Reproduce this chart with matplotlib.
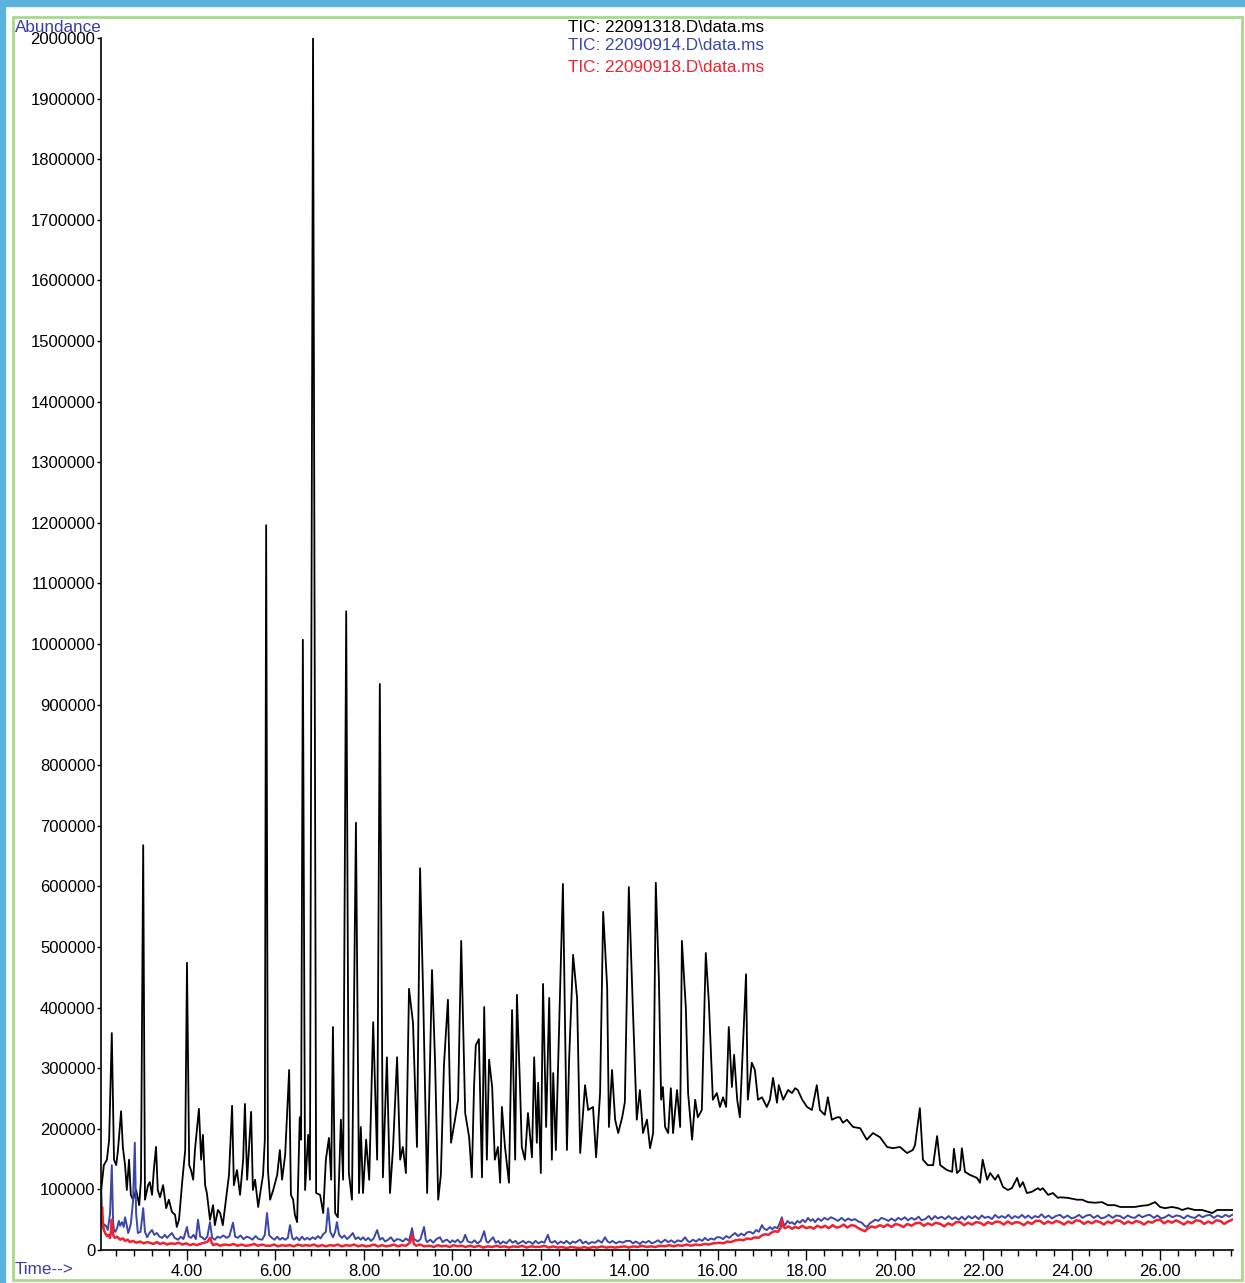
import numpy as np
from matplotlib import pyplot as plt
from matplotlib.patches import Rectangle
from matplotlib.ticker import MultipleLocator, FixedLocator

# retention time (min) and abundance (thousands)
black_t = [2.06, 2.12, 2.19, 2.24, 2.30, 2.35, 2.40, 2.44, 2.51, 2.55, 2.60, 2.64, 2.69, 2.73, 2.78, 2.85,
           2.92, 2.96, 3.01, 3.05, 3.12, 3.16, 3.21, 3.25, 3.30, 3.34, 3.39, 3.46, 3.53, 3.59, 3.66, 3.73,
           3.77, 3.82, 3.89, 3.96, 4.00, 4.05, 4.09, 4.14, 4.18, 4.27, 4.32, 4.36, 4.41, 4.45, 4.52, 4.59,
           4.63, 4.70, 4.75, 4.81, 4.88, 4.95, 5.02, 5.06, 5.13, 5.20, 5.27, 5.31, 5.36, 5.45, 5.49, 5.54,
           5.61, 5.65, 5.72, 5.76, 5.79, 5.83, 5.88, 5.95, 6.04, 6.10, 6.15, 6.22, 6.31, 6.35, 6.40, 6.44,
           6.49, 6.55, 6.58, 6.62, 6.67, 6.74, 6.78, 6.85, 6.92, 7.01, 7.08, 7.14, 7.21, 7.26, 7.30, 7.35,
           7.41, 7.48, 7.53, 7.60, 7.66, 7.73, 7.82, 7.89, 7.93, 7.98, 8.05, 8.12, 8.21, 8.30, 8.36, 8.43,
           8.52, 8.59, 8.66, 8.75, 8.82, 8.88, 8.95, 9.02, 9.11, 9.20, 9.27, 9.34, 9.43, 9.54, 9.61, 9.68,
           9.74, 9.81, 9.90, 9.97, 10.06, 10.13, 10.20, 10.29, 10.38, 10.44, 10.49, 10.53, 10.60, 10.67,
           10.72, 10.78, 10.83, 10.90, 10.96, 11.03, 11.08, 11.12, 11.19, 11.28, 11.35, 11.42, 11.46,
           11.53, 11.57, 11.64, 11.71, 11.80, 11.85, 11.91, 11.94, 12.00, 12.05, 12.12, 12.19, 12.25,
           12.28, 12.34, 12.41, 12.50, 12.59, 12.64, 12.73, 12.82, 12.89, 13.00, 13.07, 13.18, 13.25,
           13.34, 13.41, 13.50, 13.54, 13.61, 13.68, 13.75, 13.84, 13.90, 13.99, 14.08, 14.17, 14.24,
           14.31, 14.40, 14.47, 14.54, 14.60, 14.67, 14.72, 14.76, 14.81, 14.88, 14.94, 14.99, 15.08,
           15.15, 15.19, 15.28, 15.33, 15.42, 15.49, 15.55, 15.64, 15.73, 15.80, 15.89, 15.98, 16.05,
           16.12, 16.19, 16.25, 16.32, 16.37, 16.44, 16.50, 16.64, 16.68, 16.77, 16.84, 16.91, 17.00,
           17.11, 17.18, 17.25, 17.34, 17.38, 17.48, 17.59, 17.68, 17.75, 17.81, 17.91, 18.02, 18.13,
           18.24, 18.31, 18.42, 18.49, 18.58, 18.70, 18.76, 18.83, 18.92, 19.06, 19.22, 19.37, 19.51,
           19.67, 19.83, 19.96, 20.12, 20.28, 20.41, 20.46, 20.57, 20.64, 20.75, 20.87, 20.96, 21.03,
           21.18, 21.30, 21.34, 21.41, 21.48, 21.52, 21.59, 21.70, 21.86, 21.93, 21.99, 22.09, 22.16,
           22.27, 22.34, 22.45, 22.56, 22.65, 22.77, 22.83, 22.90, 22.99, 23.10, 23.24, 23.29, 23.35,
           23.47, 23.58, 23.69, 23.74, 23.92, 24.12, 24.24, 24.37, 24.53, 24.69, 24.82, 24.98, 25.10,
           25.25, 25.43, 25.59, 25.73, 25.89, 26.00, 26.11, 26.27, 26.41, 26.50, 26.63, 26.79, 26.95,
           27.09, 27.18, 27.29, 27.40, 27.63]
black_k = [99, 140, 149, 182, 358, 149, 140, 165, 229, 170, 140, 99, 149, 91, 83, 99,
           74, 116, 668, 83, 107, 112, 91, 132, 170, 99, 87, 107, 69, 83, 63, 58,
           38, 50, 111, 165, 474, 140, 132, 116, 165, 233, 149, 190, 107, 94, 50, 74,
           41, 66, 61, 41, 83, 124, 238, 107, 132, 91, 149, 241, 116, 228, 99, 116,
           71, 91, 124, 182, 1196, 132, 83, 99, 124, 165, 116, 157, 297, 91, 83, 58,
           46, 219, 182, 1007, 99, 190, 116, 2000, 94, 91, 61, 149, 185, 116, 368, 61,
           54, 215, 116, 1054, 127, 83, 705, 94, 203, 94, 182, 116, 376, 149, 934, 120,
           318, 94, 170, 318, 149, 170, 127, 431, 375, 170, 630, 421, 94, 462, 309, 83,
           124, 305, 413, 177, 215, 248, 510, 226, 186, 120, 269, 338, 348, 120,
           401, 149, 314, 269, 149, 170, 111, 236, 170, 111, 396, 149, 421,
           269, 170, 149, 226, 153, 318, 177, 276, 127, 439, 203, 416, 149,
           292, 165, 355, 604, 165, 314, 487, 416, 160, 272, 231, 236, 153,
           259, 558, 434, 203, 297, 215, 193, 219, 244, 599, 401, 215, 264,
           193, 215, 168, 193, 606, 446, 248, 269, 203, 193, 267, 193, 264,
           203, 510, 398, 259, 182, 248, 219, 231, 490, 408, 248, 259, 236,
           252, 236, 368, 269, 322, 248, 219, 455, 248, 309, 297, 248, 252,
           236, 248, 284, 243, 272, 248, 264, 259, 267, 264, 248, 236, 231,
           272, 231, 223, 252, 215, 219, 219, 210, 215, 203, 201, 182, 193,
           186, 170, 168, 170, 160, 165, 173, 234, 149, 140, 140, 188, 140,
           132, 129, 167, 127, 132, 168, 129, 124, 119, 111, 149, 116, 127,
           116, 124, 104, 99, 102, 119, 104, 112, 94, 96, 102, 99, 102,
           91, 94, 86, 87, 86, 83, 83, 79, 78, 79, 74, 74, 71,
           71, 71, 73, 74, 79, 71, 69, 71, 69, 66, 69, 66, 66,
           63, 61, 66, 66, 66]

blue_t = [2.06, 2.08, 2.10, 2.13, 2.17, 2.21, 2.26, 2.30, 2.33, 2.35, 2.38, 2.42, 2.46, 2.49, 2.53, 2.57,
          2.60, 2.64, 2.67, 2.70, 2.73, 2.78, 2.82, 2.85, 2.89, 2.95, 3.01, 3.05, 3.10, 3.15, 3.21, 3.26,
          3.32, 3.38, 3.44, 3.50, 3.55, 3.60, 3.66, 3.72, 3.80, 3.86, 3.92, 4.00, 4.04, 4.09, 4.15, 4.20,
          4.25, 4.30, 4.34, 4.40, 4.46, 4.52, 4.57, 4.63, 4.69, 4.75, 4.82, 4.90, 4.96, 5.04, 5.09, 5.15,
          5.21, 5.28, 5.35, 5.42, 5.48, 5.55, 5.62, 5.70, 5.76, 5.81, 5.86, 5.92, 5.98, 6.04, 6.10, 6.16,
          6.22, 6.28, 6.33, 6.38, 6.42, 6.48, 6.54, 6.60, 6.66, 6.72, 6.78, 6.84, 6.90, 6.96, 7.02, 7.08,
          7.14, 7.19, 7.24, 7.30, 7.35, 7.39, 7.44, 7.50, 7.56, 7.62, 7.68, 7.75, 7.81, 7.87, 7.93, 7.98,
          8.04, 8.10, 8.16, 8.22, 8.30, 8.36, 8.42, 8.48, 8.55, 8.61, 8.68, 8.75, 8.82, 8.88, 8.95, 9.02,
          9.09, 9.13, 9.16, 9.22, 9.28, 9.36, 9.40, 9.43, 9.50, 9.57, 9.64, 9.72, 9.78, 9.84, 9.88, 9.95,
          10.00, 10.06, 10.12, 10.18, 10.24, 10.29, 10.35, 10.44, 10.50, 10.57, 10.64, 10.72, 10.77, 10.81,
          10.86, 10.92, 10.98, 11.04, 11.08, 11.15, 11.22, 11.30, 11.36, 11.43, 11.48, 11.53, 11.60, 11.66,
          11.72, 11.76, 11.82, 11.88, 11.95, 12.02, 12.08, 12.16, 12.21, 12.25, 12.32, 12.38, 12.45, 12.52,
          12.58, 12.66, 12.72, 12.78, 12.84, 12.89, 12.95, 13.02, 13.08, 13.15, 13.23, 13.30, 13.38, 13.45,
          13.51, 13.56, 13.62, 13.70, 13.78, 13.85, 13.93, 14.02, 14.08, 14.15, 14.24, 14.30, 14.37, 14.44,
          14.51, 14.58, 14.65, 14.72, 14.81, 14.88, 14.95, 15.02, 15.10, 15.18, 15.26, 15.32, 15.37, 15.44,
          15.51, 15.58, 15.65, 15.71, 15.78, 15.85, 15.92, 15.98, 16.05, 16.12, 16.19, 16.26, 16.32, 16.39,
          16.46, 16.53, 16.60, 16.66, 16.73, 16.80, 16.87, 16.93, 17.00, 17.05, 17.11, 17.18, 17.23, 17.29,
          17.35, 17.40, 17.45, 17.48, 17.52, 17.58, 17.63, 17.68, 17.74, 17.80, 17.86, 17.92, 17.98, 18.04,
          18.10, 18.15, 18.20, 18.27, 18.34, 18.41, 18.49, 18.56, 18.65, 18.72, 18.80, 18.88, 18.95, 19.02,
          19.10, 19.18, 19.26, 19.32, 19.37, 19.44, 19.50, 19.56, 19.63, 19.70, 19.78, 19.86, 19.93, 20.01,
          20.08, 20.15, 20.23, 20.30, 20.38, 20.46, 20.54, 20.61, 20.69, 20.77, 20.84, 20.91, 20.98, 21.06,
          21.14, 21.22, 21.30, 21.37, 21.45, 21.52, 21.59, 21.67, 21.75, 21.82, 21.90, 21.97, 22.04, 22.12,
          22.20, 22.27, 22.35, 22.42, 22.50, 22.57, 22.65, 22.72, 22.80, 22.88, 22.95, 23.02, 23.10, 23.17,
          23.25, 23.32, 23.40, 23.48, 23.56, 23.64, 23.74, 23.82, 23.91, 24.00, 24.08, 24.17, 24.25, 24.34,
          24.42, 24.50, 24.59, 24.67, 24.76, 24.84, 24.93, 25.01, 25.10, 25.18, 25.27, 25.35, 25.43, 25.52,
          25.60, 25.69, 25.77, 25.86, 25.94, 26.03, 26.11, 26.20, 26.28, 26.37, 26.45, 26.54, 26.62, 26.71,
          26.79, 26.88, 26.96, 27.05, 27.13, 27.22, 27.30, 27.40, 27.48, 27.56, 27.63]
blue_k = [102, 60, 36, 42, 40, 33, 60, 140, 45, 33, 30, 36, 48, 40, 46, 38,
          54, 40, 28, 35, 43, 80, 177, 60, 28, 30, 69, 30, 21, 28, 33, 25,
          28, 22, 20, 25, 20, 24, 28, 20, 17, 22, 18, 38, 22, 20, 25, 18,
          50, 22, 21, 17, 22, 46, 20, 17, 22, 20, 24, 20, 23, 45, 22, 20,
          24, 18, 22, 20, 17, 23, 18, 17, 25, 61, 24, 20, 17, 22, 17, 20,
          17, 20, 41, 20, 17, 21, 16, 22, 17, 20, 17, 21, 18, 23, 19, 26,
          30, 69, 30, 21, 30, 46, 25, 20, 24, 18, 22, 28, 18, 21, 17, 21,
          16, 20, 15, 19, 33, 17, 20, 14, 17, 21, 14, 18, 17, 14, 19, 15,
          36, 18, 17, 14, 18, 38, 17, 13, 17, 12, 18, 21, 13, 16, 17, 12,
          16, 13, 17, 12, 15, 25, 14, 12, 16, 11, 15, 31, 14, 12,
          16, 21, 12, 15, 10, 14, 11, 17, 12, 15, 10, 12, 15, 11,
          14, 13, 10, 15, 11, 14, 12, 25, 14, 12, 15, 10, 14, 11,
          15, 10, 14, 12, 15, 17, 11, 14, 10, 13, 12, 16, 12, 21,
          14, 12, 15, 11, 14, 12, 15, 15, 11, 14, 10, 14, 12, 15,
          11, 13, 16, 12, 17, 13, 16, 12, 16, 14, 21, 15, 13, 17,
          14, 18, 15, 20, 16, 19, 17, 21, 21, 18, 23, 20, 24, 28,
          23, 27, 24, 29, 30, 27, 33, 30, 41, 35, 33, 38, 34, 38,
          36, 44, 54, 44, 41, 48, 44, 46, 42, 48, 45, 50, 46, 53,
          48, 51, 46, 52, 48, 53, 50, 54, 51, 48, 53, 48, 52, 49,
          51, 47, 45, 40, 38, 44, 47, 50, 48, 53, 51, 48, 52, 48,
          53, 50, 54, 49, 53, 50, 55, 49, 51, 56, 50, 56, 52, 55,
          51, 56, 51, 54, 50, 55, 50, 56, 52, 56, 51, 57, 53, 55,
          51, 58, 53, 56, 53, 58, 52, 56, 53, 58, 53, 57, 52, 56,
          54, 59, 53, 57, 52, 56, 58, 53, 57, 52, 54, 58, 53, 57,
          58, 53, 57, 52, 54, 58, 53, 57, 56, 52, 57, 54, 53, 58,
          54, 57, 58, 53, 57, 52, 54, 58, 54, 57, 56, 52, 57, 54,
          53, 58, 54, 57, 58, 53, 57, 54, 58, 55, 58]

red_t = [2.06, 2.08, 2.10, 2.12, 2.15, 2.19, 2.22, 2.26, 2.28, 2.30, 2.33, 2.37, 2.42, 2.49, 2.55, 2.60,
         2.66, 2.71, 2.78, 2.85, 2.94, 3.02, 3.10, 3.16, 3.24, 3.32, 3.39, 3.47, 3.55, 3.63, 3.73, 3.81,
         3.90, 3.98, 4.07, 4.15, 4.22, 4.29, 4.40, 4.47, 4.52, 4.56, 4.59, 4.67, 4.75, 4.84, 4.97, 5.05,
         5.14, 5.23, 5.33, 5.43, 5.52, 5.60, 5.70, 5.79, 5.88, 5.97, 6.06, 6.15, 6.24, 6.33, 6.42, 6.51,
         6.60, 6.69, 6.78, 6.87, 6.96, 7.05, 7.14, 7.23, 7.32, 7.41, 7.50, 7.60, 7.69, 7.78, 7.87, 7.96,
         8.05, 8.14, 8.23, 8.32, 8.41, 8.50, 8.59, 8.68, 8.77, 8.86, 8.95, 9.04, 9.09, 9.13, 9.18, 9.27,
         9.36, 9.49, 9.58, 9.67, 9.76, 9.85, 9.94, 10.03, 10.12, 10.21, 10.30, 10.40, 10.50, 10.60, 10.70,
         10.80, 10.90, 11.00, 11.08, 11.18, 11.28, 11.38, 11.48, 11.58, 11.68, 11.78, 11.88, 11.98, 12.08,
         12.18, 12.28, 12.38, 12.48, 12.58, 12.68, 12.78, 12.89, 12.98, 13.08, 13.18, 13.28, 13.38, 13.48,
         13.58, 13.68, 13.79, 13.89, 13.99, 14.09, 14.19, 14.29, 14.39, 14.49, 14.59, 14.70, 14.80, 14.90,
         15.00, 15.10, 15.20, 15.30, 15.40, 15.50, 15.60, 15.70, 15.80, 15.90, 16.05, 16.13, 16.21, 16.30,
         16.40, 16.50, 16.58, 16.66, 16.75, 16.84, 16.92, 17.00, 17.07, 17.15, 17.22, 17.29, 17.36, 17.42,
         17.45, 17.49, 17.52, 17.60, 17.68, 17.75, 17.83, 17.91, 18.00, 18.09, 18.17, 18.25, 18.34, 18.43,
         18.51, 18.60, 18.68, 18.76, 18.85, 18.93, 19.02, 19.10, 19.18, 19.26, 19.33, 19.40, 19.48, 19.56,
         19.67, 19.75, 19.84, 19.93, 20.02, 20.12, 20.20, 20.29, 20.38, 20.47, 20.57, 20.66, 20.75, 20.84,
         20.93, 21.03, 21.12, 21.21, 21.30, 21.39, 21.48, 21.57, 21.66, 21.75, 21.84, 21.93, 22.02, 22.11,
         22.20, 22.29, 22.38, 22.47, 22.56, 22.65, 22.74, 22.83, 22.92, 23.01, 23.10, 23.19, 23.29, 23.38,
         23.47, 23.56, 23.65, 23.74, 23.83, 23.92, 24.01, 24.10, 24.19, 24.28, 24.37, 24.46, 24.55, 24.64,
         24.73, 24.82, 24.91, 25.00, 25.10, 25.19, 25.28, 25.37, 25.46, 25.55, 25.64, 25.73, 25.82, 25.91,
         26.00, 26.09, 26.18, 26.27, 26.36, 26.45, 26.54, 26.63, 26.72, 26.81, 26.91, 27.00, 27.09, 27.18,
         27.27, 27.36, 27.45, 27.54, 27.63]
red_k = [41, 71, 45, 33, 28, 23, 25, 20, 30, 50, 25, 20, 22, 17, 19, 15,
         17, 13, 15, 12, 14, 11, 13, 12, 10, 13, 10, 12, 9, 11, 10, 12,
         9, 11, 8, 10, 8, 10, 12, 14, 20, 12, 8, 10, 7, 9, 8, 10,
         7, 9, 7, 8, 10, 7, 9, 7, 7, 9, 6, 8, 7, 8, 6, 9,
         7, 8, 7, 9, 6, 8, 6, 8, 7, 9, 6, 8, 7, 9, 6, 8,
         6, 7, 9, 6, 8, 6, 7, 9, 6, 8, 7, 12, 25, 10, 7, 9,
         6, 7, 5, 8, 6, 7, 5, 8, 6, 7, 5, 7, 5, 7, 4,
         6, 5, 7, 5, 6, 4, 6, 5, 7, 4, 6, 5, 5, 7,
         4, 6, 4, 5, 3, 5, 4, 3, 5, 3, 5, 4, 6, 4,
         5, 4, 5, 6, 4, 6, 5, 7, 5, 6, 5, 7, 6, 8,
         6, 8, 7, 9, 7, 9, 8, 10, 9, 11, 12, 11, 14, 13,
         16, 17, 16, 19, 18, 21, 20, 24, 26, 25, 29, 31, 30, 36,
         50, 38, 36, 39, 35, 38, 36, 40, 36, 38, 35, 40, 37, 40,
         36, 41, 37, 38, 42, 37, 41, 40, 36, 33, 31, 36, 39, 37,
         41, 38, 42, 38, 43, 41, 38, 43, 40, 44, 45, 40, 44, 41,
         45, 43, 39, 44, 41, 46, 46, 41, 45, 42, 46, 45, 41, 46,
         43, 47, 46, 42, 47, 43, 46, 45, 41, 46, 43, 48, 48, 43,
         47, 44, 48, 46, 42, 47, 44, 49, 48, 43, 47, 44, 48, 46,
         42, 47, 44, 49, 48, 43, 47, 44, 48, 46, 42, 47, 45, 49,
         50, 44, 48, 45, 49, 46, 42, 47, 44, 49, 48, 43, 47, 44,
         49, 48, 43, 47, 50]

labels = ["TIC: 22091318.D\\data.ms", "TIC: 22090914.D\\data.ms", "TIC: 22090918.D\\data.ms"]
colors = ["black", "#3c46a8", "#f0222e"]

plt.rcParams['font.family'] = ['Liberation Sans', 'DejaVu Sans']

W, H = 1245, 1283
fig = plt.figure(figsize=(W / 100, H / 100), dpi=100)

# outer blue edges and green frame
fig.patches.append(Rectangle((0, 1 - 6 / H), 1, 6 / H, transform=fig.transFigure,
                             color="#5ab3dd", zorder=0))
fig.patches.append(Rectangle((0, 0), 5 / W, 1, transform=fig.transFigure,
                             color="#5ab3dd", zorder=0))
fig.patches.append(Rectangle((13 / W, 3 / H), (1242 - 13) / W, (1280 - 17) / H,
                             transform=fig.transFigure, fill=False,
                             edgecolor="#a9d88c", lw=2, zorder=0))

ax = fig.add_axes([101 / W, 1 - 1250 / H, (1233 - 101) / W, (1250 - 38) / H])
ax.set_facecolor("none")

ax.plot(black_t, np.array(black_k) * 1000, color=colors[0], lw=1.3)
ax.plot(blue_t, np.array(blue_k) * 1000, color=colors[1], lw=1.4)
ax.plot(red_t, np.array(red_k) * 1000, color=colors[2], lw=1.8)

ax.set_xlim(2.056, 27.65)
ax.set_ylim(0, 2000000)

for s in ['top', 'right']:
    ax.spines[s].set_visible(False)
for s in ['left', 'bottom']:
    ax.spines[s].set_linewidth(1.2)

ax.yaxis.set_major_locator(MultipleLocator(100000))
ax.yaxis.set_major_formatter(lambda v, p: f"{int(v)}")
ax.tick_params(axis='y', length=3, pad=1, labelsize=12, width=1)

ax.xaxis.set_major_locator(FixedLocator(np.arange(4, 27, 2)))
ax.xaxis.set_minor_locator(FixedLocator(np.arange(2.4, 27.7, 0.4)))
ax.xaxis.set_major_formatter(lambda v, p: f"{v:.2f}")
ax.tick_params(axis='x', which='major', length=7, pad=3, labelsize=12, width=1)
ax.tick_params(axis='x', which='minor', length=4, width=1)

txt_color = "#3a3fa0"
fig.text(15 / W, 1 - 27 / H, "Abundance", color=txt_color, fontsize=12.3, va='center', ha='left')
fig.text(15 / W, 1 - 1269 / H, "Time-->", color=txt_color, fontsize=12.3, va='center', ha='left')

for i, (lab, c) in enumerate(zip(labels, colors)):
    ypix = [27, 46, 67][i]
    fig.text(568 / W, 1 - ypix / H, lab, color=c, fontsize=12.3, va='center', ha='left')

plt.savefig("out.png", dpi=100)
